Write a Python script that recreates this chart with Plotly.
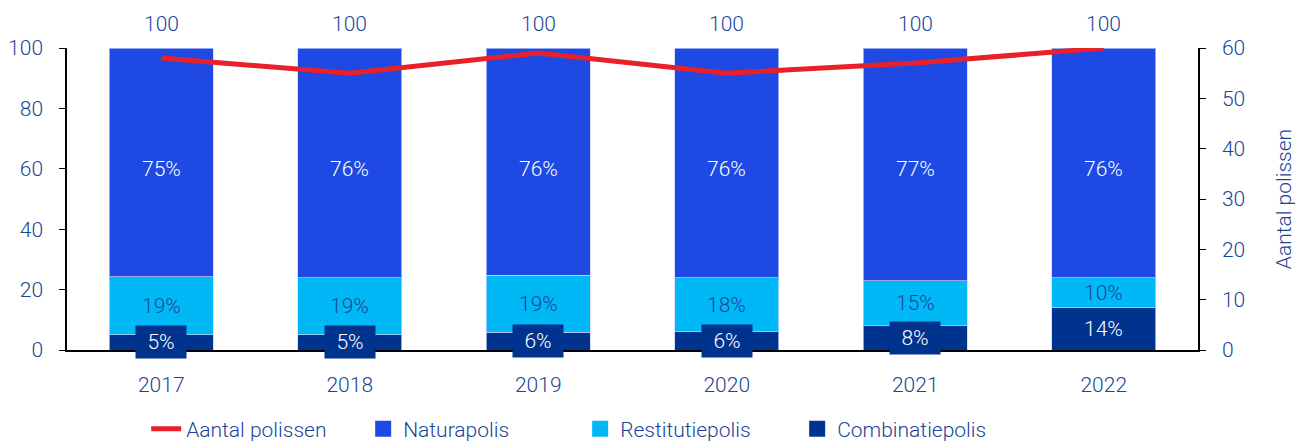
import plotly.graph_objects as go

years = ["2017", "2018", "2019", "2020", "2021", "2022"]
combinatie = [5, 5, 6, 6, 8, 14]
restitutie = [19, 19, 19, 18, 15, 10]
natura = [75, 76, 76, 76, 77, 76]
totals = [100, 100, 100, 100, 100, 100]
aantal = [58, 55, 59, 55, 57, 60]

C_NAT = "#1E49E2"
C_RES = "#00B8F5"
C_COM = "#00338D"
C_RED = "#E8202A"
TXT = "#1A4699"
FONT = "Roboto"
FS = 21

# bar heights: shares rescaled so each stack reaches its total
sums = [c + r + n for c, r, n in zip(combinatie, restitutie, natura)]
def scaled(vals):
    return [v / s * t for v, s, t in zip(vals, sums, totals)]

com_h, res_h, nat_h = scaled(combinatie), scaled(restitutie), scaled(natura)

fig = go.Figure()
edge = dict(color="rgba(200,210,255,0.7)", width=1)
for name, vals, col in [("Combinatiepolis", com_h, C_COM),
                        ("Restitutiepolis", res_h, C_RES),
                        ("Naturapolis", nat_h, C_NAT)]:
    fig.add_trace(go.Bar(x=years, y=vals, name=name, marker=dict(color=col, line=edge),
                         showlegend=False, hoverinfo="skip"))

fig.add_trace(go.Scatter(x=years, y=aantal, yaxis="y2", mode="lines", name="Aantal polissen",
                         line=dict(color=C_RED, width=5), legendrank=1))
for rank, (name, col) in enumerate([("Naturapolis", C_NAT), ("Restitutiepolis", C_RES),
                                    ("Combinatiepolis", C_COM)], start=2):
    fig.add_trace(go.Scatter(x=[years[0]], y=[None], mode="markers", name=name, legendrank=rank,
                             marker=dict(symbol="square", size=24, color=col)))

lf = dict(family=FONT, size=FS, weight=300)
ann = []
for i, y in enumerate(years):
    c, r, n = combinatie[i], restitutie[i], natura[i]
    ch, rh = com_h[i], res_h[i]
    small = c < 10
    a = dict(x=i, y=ch / 2, text=f"{c}%", showarrow=False, font=dict(color="white", **lf))
    if small:
        a.update(bgcolor=C_COM, width=48, height=30)
    ann.append(a)
    ann.append(dict(x=i, y=ch + rh / 2, text=f"{r}%", showarrow=False, font=dict(color=TXT, **lf)))
    ann.append(dict(x=i, y=60, text=f"{n}%", showarrow=False, font=dict(color="white", **lf)))
    ann.append(dict(x=i, y=totals[i], text=str(totals[i]), showarrow=False, yanchor="bottom",
                    yshift=10, font=dict(color=TXT, **lf)))

fig.update_layout(
    width=1299, height=443,
    margin=dict(l=67, r=101, t=48, b=93, autoexpand=False),
    barmode="stack", bargap=0.45,
    plot_bgcolor="white", paper_bgcolor="white",
    font=dict(family=FONT, size=FS, color=TXT, weight=300),
    xaxis=dict(type="category", categoryorder="array", categoryarray=years,
               range=[-0.5, len(years) - 0.5], showline=True, linecolor="black",
               linewidth=1.5, ticks="outside", ticklen=15, tickcolor="rgba(0,0,0,0)",
               tickfont=dict(size=FS)),
    yaxis=dict(range=[0, 100], dtick=20, showgrid=False, showline=True, linecolor="black",
               linewidth=1.5, ticks="outside", ticklen=6, tickcolor="black", zeroline=False,
               ticklabelstandoff=12),
    yaxis2=dict(range=[0, 60], dtick=10, overlaying="y", side="right", showgrid=False,
                showline=True, linecolor="black", linewidth=1.5, ticks="outside", ticklen=6,
                tickcolor="black", zeroline=False, ticklabelstandoff=12,
                title=dict(text="Aantal polissen", font=dict(size=FS, color=TXT), standoff=32)),
    legend=dict(orientation="h", x=0.07, y=-0.262, xanchor="left", yanchor="middle",
                traceorder="normal", entrywidth=172, entrywidthmode="pixels",
                font=dict(size=FS, color=TXT), itemwidth=30, tracegroupgap=0),
    annotations=ann,
)
fig.write_html("out.html")
